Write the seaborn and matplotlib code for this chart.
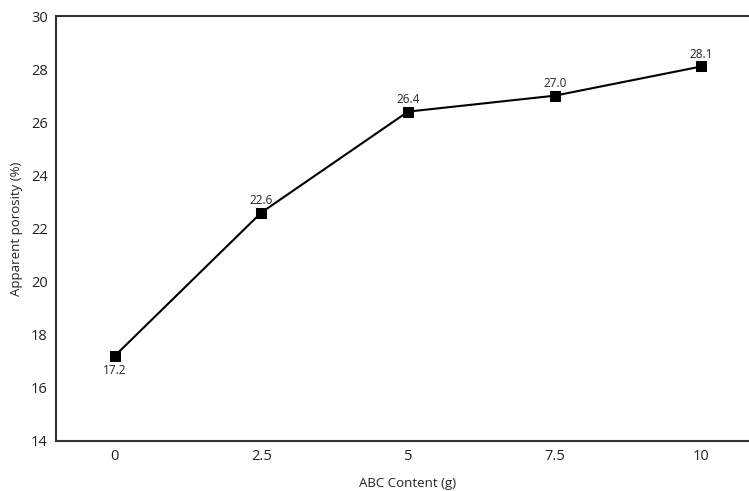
import numpy as np
import pandas as pd
import matplotlib
matplotlib.use("Agg")
import matplotlib.pyplot as plt
import seaborn as sns

# data
abc_content = [0, 2.5, 5, 7.5, 10]
porosity = [17.2, 22.6, 26.4, 27.0, 28.1]
tick_labels = ["0", "2.5", "5", "7.5", "10"]

df = pd.DataFrame({"abc": abc_content, "porosity": porosity})

sns.set_style("white")
plt.rcParams["font.family"] = ["Open Sans", "DejaVu Sans"]

fig = plt.figure(figsize=(7.49, 4.91), dpi=100)
ax = fig.add_axes([56 / 749, 1 - 441 / 491, 704 / 749, 425 / 491])

sns.lineplot(data=df, x="abc", y="porosity", ax=ax, color="black",
             linewidth=1.5, marker="s", markersize=7.5, markeredgecolor="black")

# value labels
for i, (x, y) in enumerate(zip(abc_content, porosity)):
    if i == 0:
        ax.annotate(f"{y:.1f}", (x, y), xytext=(0, -6), textcoords="offset points",
                    ha="center", va="top", fontsize=8.5, color="#222222")
    else:
        ax.annotate(f"{y:.1f}", (x, y), xytext=(0, 4), textcoords="offset points",
                    ha="center", va="bottom", fontsize=8.5, color="#222222")

ax.set_xlim(-1.0, 11.0)
ax.set_ylim(14, 30)
ax.set_xticks(abc_content)
ax.set_xticklabels(tick_labels)
ax.set_yticks(np.arange(14, 31, 2))
ax.tick_params(axis="both", length=0, labelsize=10.5, colors="#222222", pad=6)

ax.set_xlabel("ABC Content (g)", fontsize=9.5, color="#222222", labelpad=9)
ax.set_ylabel("Apparent porosity (%)", fontsize=9.5, color="#222222", labelpad=6)

for side in ["left", "bottom", "top"]:
    ax.spines[side].set_visible(True)
    ax.spines[side].set_color("#333333")
    ax.spines[side].set_linewidth(1.5)
ax.spines["right"].set_visible(False)

fig.savefig("out.png", dpi=100)
